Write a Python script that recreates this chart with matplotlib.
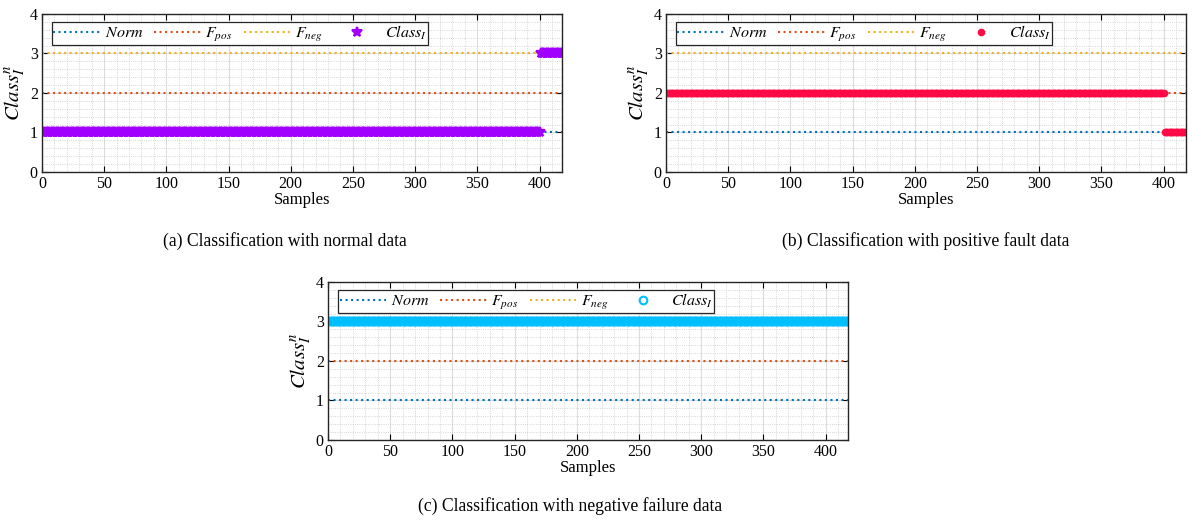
import numpy as np
import matplotlib.pyplot as plt
from matplotlib.ticker import MultipleLocator

plt.rcParams['font.family'] = 'serif'
plt.rcParams['font.serif'] = ['Liberation Serif', 'DejaVu Serif']
plt.rcParams['mathtext.fontset'] = 'stix'
plt.rcParams['font.size'] = 11.5

# ------------------------------------------------------------
# Data
# ------------------------------------------------------------
n_samples = 418
ref_levels = [1, 2, 3]          # Norm, F_pos, F_neg
ref_labels = [r'$Norm$', r'$F_{pos}$', r'$F_{neg}$']
ref_colors = ['#0072BD', '#D95319', '#EDB120']

# class output given as (level, number of samples) segments
class_a_levels = [1, 3]
class_a_counts = [400, 18]
class_b_levels = [2, 1]
class_b_counts = [400, 18]
class_c_levels = [3]
class_c_counts = [418]

captions = ["(a) Classification with normal data",
            "(b) Classification with positive fault data",
            "(c) Classification with negative failure data"]


def draw_panel(ax, levels, counts, marker, color, mfc, ms):
    x = np.arange(1, n_samples + 1)
    for lvl, lab, col in zip(ref_levels, ref_labels, ref_colors):
        ax.plot([0, n_samples], [lvl, lvl], ls=':', lw=1.5, color=col, label=lab)
    y = np.repeat(levels, counts)
    ax.plot(x, y, ls='none', marker=marker, color=color, mfc=mfc, ms=ms,
            mew=1.5, label=r'$Class_I$')

    ax.set_xlim(0, n_samples)
    ax.set_ylim(0, 4)
    ax.xaxis.set_major_locator(MultipleLocator(50))
    ax.xaxis.set_minor_locator(MultipleLocator(10))
    ax.yaxis.set_major_locator(MultipleLocator(1))
    ax.yaxis.set_minor_locator(MultipleLocator(0.2))
    ax.grid(which='major', color='#dcdcdc', lw=0.8)
    ax.grid(which='minor', color='#c8c8c8', ls=':', lw=0.6)
    ax.set_axisbelow(True)
    ax.tick_params(which='both', direction='in', top=True, right=True)
    ax.tick_params(which='minor', length=0)
    ax.tick_params(which='major', length=4, pad=3)
    for s in ax.spines.values():
        s.set_linewidth(1.0)
        s.set_color('#262626')
    ax.set_xlabel('Samples', fontsize=12, labelpad=0)
    ax.set_ylabel(r'$Class_I^n$', fontsize=15, labelpad=2)
    leg = ax.legend(ncol=4, loc='upper left', bbox_to_anchor=(0.019, 0.95),
                    fancybox=False, edgecolor='#262626', framealpha=1,
                    handlelength=2.9, columnspacing=0.7, borderpad=0.1,
                    handletextpad=0.3, borderaxespad=0, fontsize=11.5)
    leg.get_frame().set_linewidth(0.9)


fig = plt.figure(figsize=(11.92, 5.21), dpi=100)
w, h = 0.4362, 0.3033
ax_a = fig.add_axes([0.0352, 0.6699, w, h])
ax_b = fig.add_axes([0.5587, 0.6699, w, h])
ax_c = fig.add_axes([0.2752, 0.1555, w, h])

draw_panel(ax_a, class_a_levels, class_a_counts, '*', '#A100FF', '#A100FF', 7)
draw_panel(ax_b, class_b_levels, class_b_counts, '.', '#FF0A46', '#FF0A46', 8)
draw_panel(ax_c, class_c_levels, class_c_counts, 'o', '#00BFFF', 'none', 5.5)

fig.text(0.2387, 0.537, captions[0], ha='center', va='center', fontsize=12.7)
fig.text(0.777, 0.537, captions[1], ha='center', va='center', fontsize=12.7)
fig.text(0.478, 0.028, captions[2], ha='center', va='center', fontsize=12.7)

fig.savefig('out.png', dpi=100)
